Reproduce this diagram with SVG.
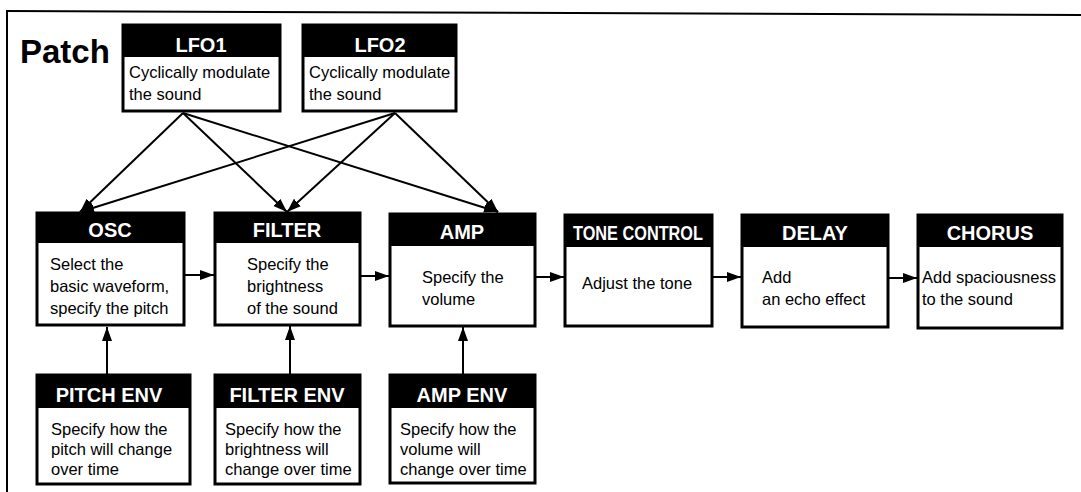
<svg xmlns="http://www.w3.org/2000/svg" width="1081" height="492" viewBox="0 0 1081 492">
<defs>
<marker id="ah" markerUnits="userSpaceOnUse" markerWidth="16" markerHeight="12" refX="14" refY="5.5" orient="auto">
<path d="M0,0.5 L14,5.5 L0,10.5 z" fill="#000"/>
</marker>
<style>
.box{fill:#fff;stroke:#000;stroke-width:3}
.hdr{fill:#000}
.ht{font-family:"Liberation Sans",Arial,sans-serif;font-weight:bold;font-size:20px;fill:#fff;text-anchor:middle}
.bt{font-family:"Liberation Sans",Arial,sans-serif;font-size:16.5px;fill:#000}
.c{stroke:#000;stroke-width:2;fill:none;marker-end:url(#ah)}
</style>
</defs>
<rect width="1081" height="492" fill="#fff"/>
<g id="frame">
<path d="M7,11 L1081,15" stroke="#000" stroke-width="2" fill="none"/>
<path d="M7,10 L7,492" stroke="#000" stroke-width="2" fill="none"/>
<text x="20" y="63" font-family="'Liberation Sans',Arial,sans-serif" font-weight="bold" font-size="33">Patch</text>
</g>
<g id="lfo1">
<rect class="box" x="123" y="25" width="157" height="86"/>
<rect class="hdr" x="123" y="25" width="157" height="32"/>
<text class="ht" x="201" y="52">LFO1</text>
<text class="bt" x="129" y="78">Cyclically modulate</text>
<text class="bt" x="129" y="100">the sound</text>
</g>
<g id="lfo2">
<rect class="box" x="303" y="25" width="153" height="86"/>
<rect class="hdr" x="303" y="25" width="153" height="32"/>
<text class="ht" x="380" y="52">LFO2</text>
<text class="bt" x="309" y="78">Cyclically modulate</text>
<text class="bt" x="309" y="100">the sound</text>
</g>
<g id="osc">
<rect class="box" x="37" y="213" width="147" height="112"/>
<rect class="hdr" x="37" y="213" width="147" height="30"/>
<text class="ht" x="110" y="237">OSC</text>
<text class="bt" x="50" y="270">Select the</text>
<text class="bt" x="50" y="292">basic waveform,</text>
<text class="bt" x="50" y="314">specify the pitch</text>
</g>
<g id="filter">
<rect class="box" x="215" y="213" width="145" height="112"/>
<rect class="hdr" x="215" y="213" width="145" height="30"/>
<text class="ht" x="287" y="237">FILTER</text>
<text class="bt" x="247" y="270">Specify the</text>
<text class="bt" x="247" y="292">brightness</text>
<text class="bt" x="247" y="314">of the sound</text>
</g>
<g id="amp">
<rect class="box" x="390" y="214" width="145" height="112"/>
<rect class="hdr" x="390" y="214" width="145" height="32"/>
<text class="ht" x="462" y="239">AMP</text>
<text class="bt" x="422" y="283">Specify the</text>
<text class="bt" x="422" y="305">volume</text>
</g>
<g id="tone">
<rect class="box" x="565" y="215" width="147" height="111"/>
<rect class="hdr" x="565" y="215" width="147" height="32"/>
<text class="ht" x="638" y="240" textLength="130" lengthAdjust="spacingAndGlyphs">TONE CONTROL</text>
<text class="bt" x="582" y="289">Adjust the tone</text>
</g>
<g id="delay">
<rect class="box" x="742" y="215" width="146" height="112"/>
<rect class="hdr" x="742" y="215" width="146" height="32"/>
<text class="ht" x="815" y="240">DELAY</text>
<text class="bt" x="762" y="283">Add</text>
<text class="bt" x="762" y="305">an echo effect</text>
</g>
<g id="chorus">
<rect class="box" x="918" y="215" width="144" height="113"/>
<rect class="hdr" x="918" y="215" width="144" height="32"/>
<text class="ht" x="990" y="240">CHORUS</text>
<text class="bt" x="922" y="283">Add spaciousness</text>
<text class="bt" x="922" y="305">to the sound</text>
</g>
<g id="pitchenv">
<rect class="box" x="37" y="375" width="153" height="109"/>
<rect class="hdr" x="37" y="375" width="153" height="33"/>
<text class="ht" x="109" y="402">PITCH ENV</text>
<text class="bt" x="51" y="435">Specify how the</text>
<text class="bt" x="51" y="455">pitch will change</text>
<text class="bt" x="51" y="475">over time</text>
</g>
<g id="filterenv">
<rect class="box" x="215" y="375" width="145" height="109"/>
<rect class="hdr" x="215" y="375" width="145" height="33"/>
<text class="ht" x="287" y="402">FILTER ENV</text>
<text class="bt" x="225" y="435">Specify how the</text>
<text class="bt" x="225" y="455">brightness will</text>
<text class="bt" x="225" y="475">change over time</text>
</g>
<g id="ampenv">
<rect class="box" x="390" y="375" width="145" height="108"/>
<rect class="hdr" x="390" y="375" width="145" height="33"/>
<text class="ht" x="462" y="402">AMP ENV</text>
<text class="bt" x="400" y="435">Specify how the</text>
<text class="bt" x="400" y="455">volume will</text>
<text class="bt" x="400" y="475">change over time</text>
</g>
<g id="connectors">
<path class="c" d="M183,113 L80,212"/>
<path class="c" d="M183,113 L287,212"/>
<path class="c" d="M183,113 L498,212"/>
<path class="c" d="M395,113 L80,212"/>
<path class="c" d="M395,113 L287,212"/>
<path class="c" d="M395,113 L498,212"/>
<path class="c" d="M184,275 L214,275"/>
<path class="c" d="M360,276 L389,276"/>
<path class="c" d="M535,277 L564,277"/>
<path class="c" d="M712,277 L741,277"/>
<path class="c" d="M888,278 L917,278"/>
<path class="c" d="M107,375 L107,327"/>
<path class="c" d="M290,375 L290,326"/>
<path class="c" d="M463,375 L463,327"/>
</g>
</svg>
